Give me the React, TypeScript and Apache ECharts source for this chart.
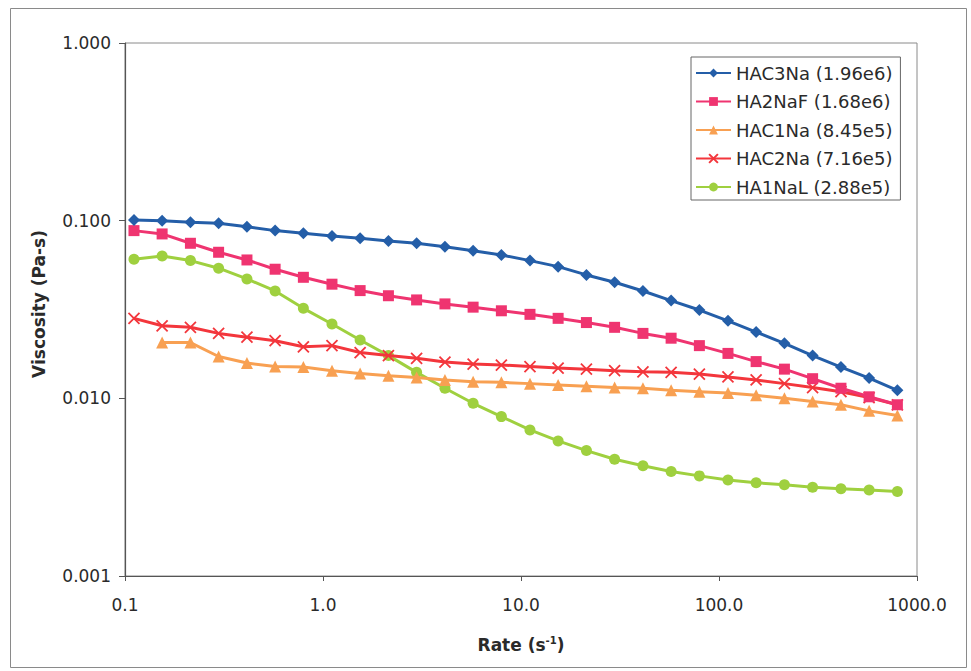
import React, { useEffect, useRef } from "react";
import * as echarts from "echarts";

// Shear rate (s^-1)
const rates = [
  0.111, 0.154, 0.214, 0.297, 0.413, 0.573, 0.796,
  1.11, 1.54, 2.14, 2.97, 4.13, 5.73, 7.96,
  11.1, 15.4, 21.4, 29.7, 41.3, 57.3, 79.6,
  111, 154, 214, 297, 413, 573, 796,
];

const seriesNames = [
  "HAC3Na (1.96e6)",
  "HA2NaF (1.68e6)",
  "HAC1Na (8.45e5)",
  "HAC2Na (7.16e5)",
  "HA1NaL (2.88e5)",
];

const hac3Na = [
  0.1009, 0.1, 0.0979, 0.0967, 0.0925, 0.0879, 0.0849, 0.082, 0.0796, 0.0769,
  0.0746, 0.0714, 0.0678, 0.0641, 0.0596, 0.0551, 0.0495, 0.045, 0.0402, 0.0355,
  0.0314, 0.0273, 0.0236, 0.0204, 0.0174, 0.015, 0.013, 0.0111,
];
const ha2NaF = [
  0.0879, 0.0842, 0.0746, 0.0664, 0.0601, 0.0533, 0.048, 0.0439, 0.0404, 0.0378,
  0.0358, 0.034, 0.0326, 0.0311, 0.0297, 0.0282, 0.0267, 0.0251, 0.0232, 0.0218,
  0.0198, 0.0179, 0.0161, 0.0146, 0.0129, 0.0114, 0.0102, 0.0092,
];
const hac1Na = [
  null, 0.0206, 0.0206, 0.0172, 0.0158, 0.0151, 0.015, 0.0143, 0.0138, 0.0134,
  0.0131, 0.0127, 0.0124, 0.0123, 0.0121, 0.0119, 0.0117, 0.0115, 0.0114, 0.0111,
  0.0109, 0.0107, 0.0104, 0.01, 0.0096, 0.0092, 0.0085, 0.008,
];
const hac2Na = [
  0.0282, 0.0256, 0.0251, 0.0232, 0.0221, 0.0211, 0.0195, 0.0198, 0.0181, 0.0174,
  0.0168, 0.016, 0.0156, 0.0154, 0.0151, 0.0148, 0.0146, 0.0143, 0.0141, 0.014,
  0.0137, 0.0132, 0.0127, 0.0121, 0.0115, 0.0109, 0.0101, 0.0092,
];
const ha1NaL = [
  0.0607, 0.0633, 0.0596, 0.054, 0.047, 0.0402, 0.0321, 0.0262, 0.0213, 0.0174,
  0.014, 0.0114, 0.00938, 0.00789, 0.00664, 0.00576, 0.00508, 0.00454, 0.00417, 0.00387,
  0.00366, 0.00347, 0.00335, 0.00326, 0.00316, 0.0031, 0.00305, 0.00299,
];

const colors = ["#245ea8", "#ef3470", "#f8a052", "#f3363c", "#9fd03f"];
const symbols = [
  "diamond",
  "rect",
  "triangle",
  "path://M0,0L10,10M10,0L0,10",
  "circle",
];
const symbolSizes = [12, 11, 12, 11, 11];

const FONT = "DejaVu Sans";

function pairs(values: (number | null)[]) {
  const out: [number, number][] = [];
  values.forEach((v, i) => {
    if (v !== null) out.push([rates[i], v]);
  });
  return out;
}

export default function App() {
  const ref = useRef<HTMLDivElement>(null);

  useEffect(() => {
    if (!ref.current) return;
    const chart = echarts.init(ref.current, null, { renderer: "svg" });
    const allValues = [hac3Na, ha2NaF, hac1Na, hac2Na, ha1NaL];
    const series = allValues.map((vals, i) => ({
      name: seriesNames[i],
      type: "line",
      data: pairs(vals),
      symbol: symbols[i],
      symbolSize: symbolSizes[i],
      showSymbol: true,
      lineStyle: { color: colors[i], width: 3 },
      itemStyle:
        i === 3
          ? { color: colors[i], borderColor: colors[i], borderWidth: 1.8 }
          : { color: colors[i], borderWidth: 0 },
      emphasis: { disabled: true },
      z: 10 - i,
    }));

    chart.setOption({
      animation: false,
      backgroundColor: "#ffffff",
      grid: {
        left: 125,
        right: 54,
        top: 43,
        bottom: 95,
        show: true,
        borderColor: "#8a8a8a",
        borderWidth: 1,
        backgroundColor: "#ffffff",
      },
      xAxis: {
        type: "log",
        logBase: 10,
        min: 0.1,
        max: 1000,
        axisLine: { show: true, lineStyle: { color: "#555", width: 1.2 } },
        axisTick: { show: true, inside: false, length: 5, lineStyle: { color: "#555" } },
        minorTick: { show: false },
        splitLine: { show: false },
        axisLabel: {
          margin: 20,
          fontFamily: FONT,
          fontSize: 17,
          color: "#2a2a2a",
          formatter: (v: number) => v.toFixed(1),
        },
      },
      yAxis: {
        type: "log",
        logBase: 10,
        min: 0.001,
        max: 1,
        axisLine: { show: true, lineStyle: { color: "#555", width: 1.2 } },
        axisTick: { show: true, inside: false, length: 6, lineStyle: { color: "#555" } },
        minorTick: { show: false },
        splitLine: { show: false },
        axisLabel: {
          margin: 14,
          fontFamily: FONT,
          fontSize: 17,
          color: "#2a2a2a",
          formatter: (v: number) => v.toFixed(3),
        },
      },
      legend: {
        orient: "vertical",
        left: 691,
        top: 57,
        padding: [6, 8, 3, 4],
        itemGap: 8.5,
        itemWidth: 35,
        itemHeight: 11,
        borderColor: "#666",
        borderWidth: 1,
        borderRadius: 0,
        backgroundColor: "#fff",
        textStyle: { fontFamily: FONT, fontSize: 18, color: "#2a2a2a", lineHeight: 20 },
        data: seriesNames,
      },
      graphic: [
        {
          type: "rect",
          shape: { x: 10.5, y: 8.5, width: 956, height: 659 },
          style: { fill: "none", stroke: "#8a8a8a", lineWidth: 1 },
          silent: true,
          z: -10,
        },
        {
          type: "text",
          x: 39,
          y: 304,
          rotation: Math.PI / 2,
          style: {
            text: "Viscosity (Pa-s)",
            font: `bold 17px "${FONT}"`,
            fill: "#2a2a2a",
            align: "center",
            verticalAlign: "middle",
          },
        },
        {
          type: "text",
          x: 521,
          y: 645,
          style: {
            text: "{a|Rate (s}{b|-1}{a|)}",
            align: "center",
            verticalAlign: "middle",
            rich: {
              a: { fontFamily: FONT, fontWeight: "bold", fontSize: 17, fill: "#2a2a2a", color: "#2a2a2a" },
              b: {
                fontFamily: FONT,
                fontWeight: "bold",
                fontSize: 10,
                fill: "#2a2a2a",
                color: "#2a2a2a",
                verticalAlign: "top",
                padding: [0, 0, 10, 0],
              },
            },
          },
        },
      ],
      series,
    });
    return () => chart.dispose();
  }, []);

  return (
    <div
      ref={ref}
      style={{ position: "fixed", left: 0, top: 0, width: 971, height: 671 }}
    />
  );
}
